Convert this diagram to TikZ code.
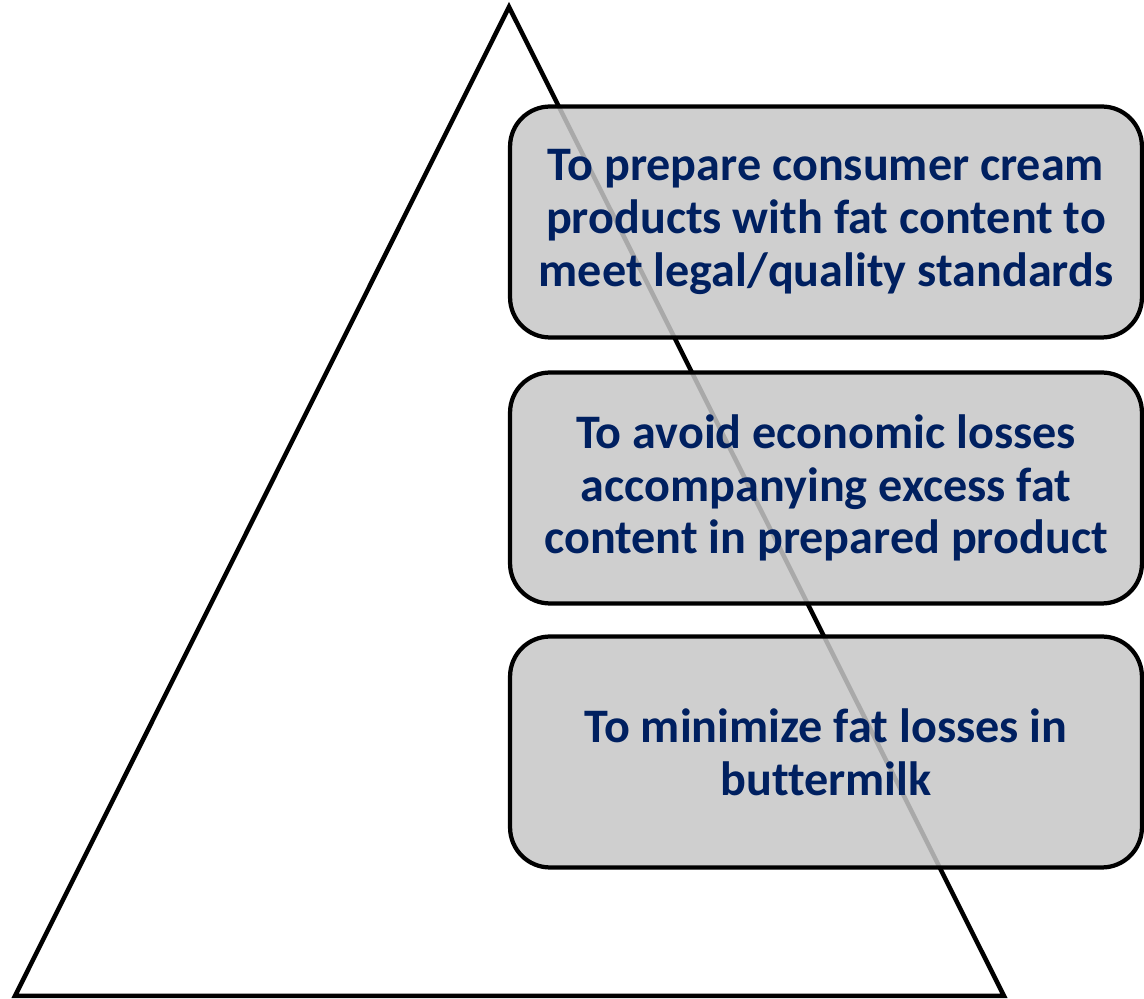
\documentclass[tikz,border=0pt]{standalone}
\usepackage{fontspec}
\setmainfont[Ligatures={NoCommon}]{Carlito}
\definecolor{navytext}{HTML}{002060}
\begin{document}
\begin{tikzpicture}[x=0.02cm,y=-0.02cm,
  aimbox/.style={draw, line width=0.085cm, rounded corners=0.8cm, fill=black!22, fill opacity=0.85, text opacity=1,
    minimum width=12.64cm, minimum height=4.62cm, align=center, text=navytext,
    font=\fontsize{27.4}{30}\selectfont\bfseries}]
\useasboundingbox (0,0) rectangle (1144,999);
\draw[line width=0.09cm]  (509,7) -- (15,996) -- (1004,996) -- cycle;
\node[aimbox] (cream) at (826,222) {To prepare consumer cream\\products with fat content to\\meet legal/quality standards};
\node[aimbox] (losses) at (826,488) {To avoid economic losses\\accompanying excess fat\\content in prepared product};
\node[aimbox] (butter) at (826,752) {To minimize fat losses in\\buttermilk};
\end{tikzpicture}
\end{document}
